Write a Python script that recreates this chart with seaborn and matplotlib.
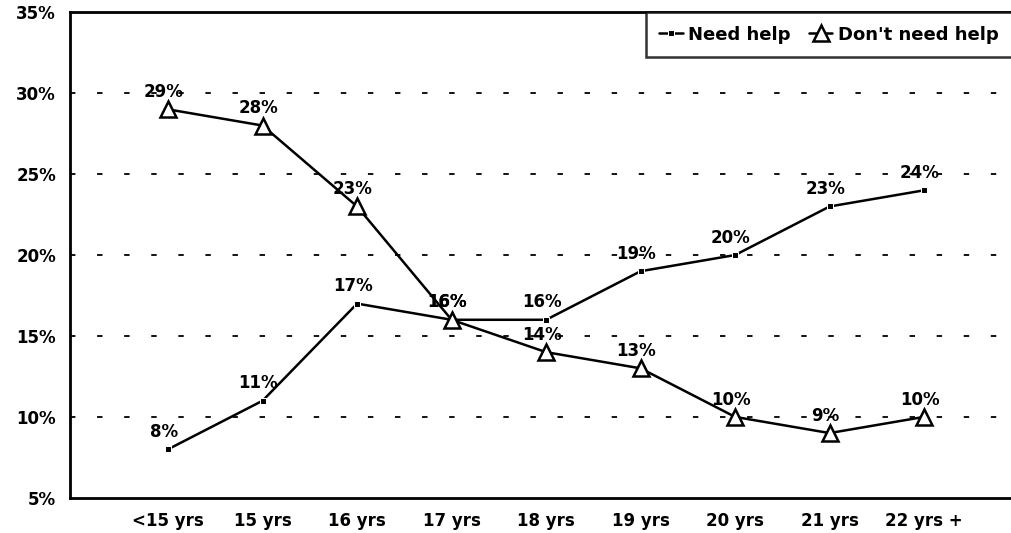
import pandas as pd
import seaborn as sns
import matplotlib.pyplot as plt

ages = ['<15 yrs', '15 yrs', '16 yrs', '17 yrs', '18 yrs', '19 yrs', '20 yrs', '21 yrs', '22 yrs +']
need_help = [8, 11, 17, 16, 16, 19, 20, 23, 24]
dont_need_help = [29, 28, 23, 16, 14, 13, 10, 9, 10]
y_ticks = [5, 10, 15, 20, 25, 30, 35]

sns.set_style('white')
plt.rcParams['font.family'] = ['DejaVu Sans']
plt.rcParams['font.weight'] = 'bold'
plt.rcParams['text.color'] = 'black'
plt.rcParams['xtick.color'] = 'black'
plt.rcParams['ytick.color'] = 'black'

df = pd.DataFrame({'pos': list(range(len(ages))) * 2,
                   'value': need_help + dont_need_help,
                   'series': ['Need help'] * len(ages) + ["Don't need help"] * len(ages)})

fig = plt.figure(figsize=(10.12, 5.33), dpi=100)
ax = fig.add_axes([0.069, 0.066, 0.931, 0.911])

# one call per series so each gets its own marker style
sns.lineplot(data=df[df['series'] == 'Need help'], x='pos', y='value', ax=ax,
             color='black', linewidth=1.8, marker='s', markersize=4,
             label='Need help')
sns.lineplot(data=df[df['series'] == "Don't need help"], x='pos', y='value', ax=ax,
             color='black', linewidth=1.8, marker='^', markersize=11,
             markerfacecolor='white', markeredgecolor='black', markeredgewidth=1.8,
             label="Don't need help")

# value labels above points
for vals in [need_help, dont_need_help]:
    for i, v in enumerate(vals):
        ax.annotate(f'{v}%', (i, v), xytext=(-3, 6), textcoords='offset points',
                    ha='center', va='bottom', fontsize=12, fontweight='bold')

ax.set_xlim(-1.04, 8.93)
ax.set_ylim(5, 35)
ax.set_xticks(range(len(ages)))
ax.set_xticklabels(ages, fontsize=12, fontweight='bold')
ax.set_yticks(y_ticks)
ax.set_yticklabels([f'{t}%' for t in y_ticks], fontsize=12, fontweight='bold')
ax.tick_params(length=0, pad=10)
ax.set_xlabel('')
ax.set_ylabel('')

for t in [10, 15, 20, 25, 30]:
    ax.axhline(t, color='black', linestyle=(0, (3, 12)), linewidth=1.3, zorder=0)

for side in ['left', 'top', 'bottom']:
    ax.spines[side].set_color('black')
    ax.spines[side].set_linewidth(2)
ax.spines['right'].set_visible(False)

leg = ax.legend(loc='upper right', ncol=2, frameon=True, fancybox=False,
                fontsize=13, handlelength=1.3, handletextpad=0.3,
                columnspacing=1.0, borderpad=0.75, borderaxespad=0)
leg.get_frame().set_edgecolor('black')
leg.get_frame().set_linewidth(1.8)
for txt in leg.get_texts():
    txt.set_fontweight('bold')
    txt.set_color('black')

plt.savefig('out.png', dpi=100)
